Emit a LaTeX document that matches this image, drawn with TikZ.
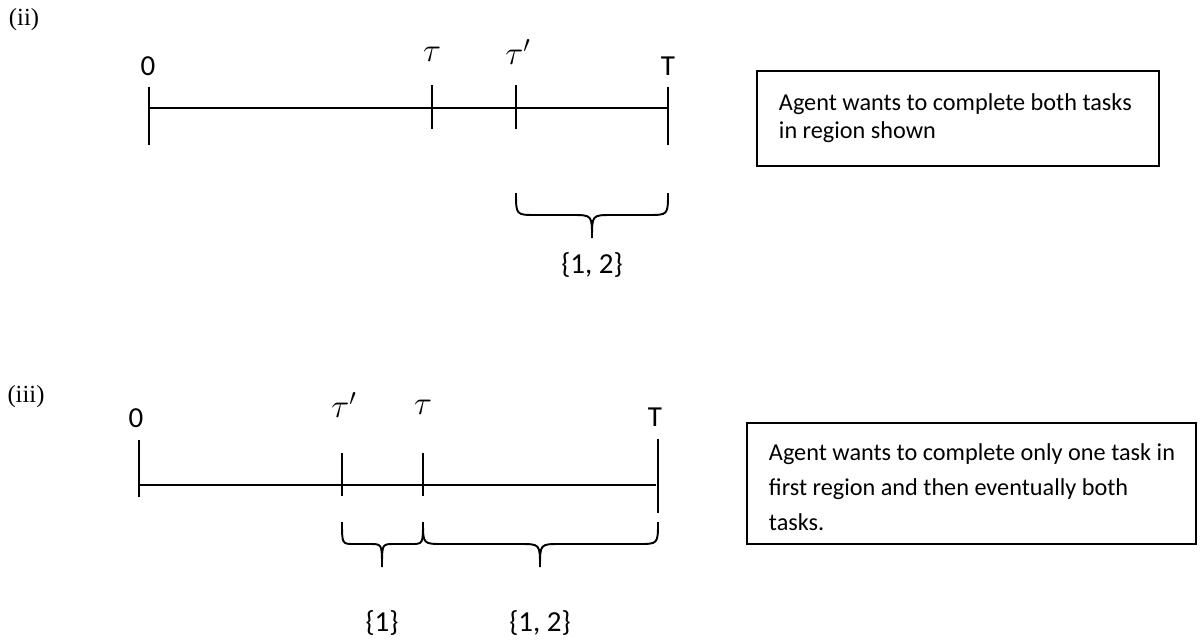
\RequirePackage{fix-cm}
\documentclass[tikz,border=0pt]{standalone}
\usepackage{fontspec}
\setmainfont{Carlito}
\newfontfamily\numfont{Liberation Serif}
\usepackage{amsmath}
\usepackage{tikz}
\usetikzlibrary{calc}

\begin{document}
\begin{tikzpicture}[x=0.02cm, y=-0.02cm, line width=1.1pt,
    lab/.style={font=\fontsize{16.5}{19}\selectfont, inner sep=0pt},
    mlab/.style={font=\fontsize{19}{22}\selectfont, inner sep=0pt},
    part/.style={font=\numfont\fontsize{14}{16}\selectfont, inner sep=0pt},
    desc/.style={font=\fontsize{13.8}{16}\selectfont, align=left, anchor=north west, inner sep=0pt}]
    \useasboundingbox (0,0) rectangle (1202,639);
    % (ii)
    \node[part] (partii) at (24,20) {(ii)};
    \coordinate (A0) at (149,108);
    \coordinate (AT) at (668,108);
    \draw (A0) -- (AT);
    \foreach \x/\t/\b in {149/87/145, 432/85/129, 516/85/129, 668/87/145} {\draw (\x,\t) -- (\x,\b);}
    \node[lab] (a0) at (148,66) {0};
    \node[mlab] (atau) at (432,54) {$\tau$};
    \node[mlab] (ataup) at (518,52) {$\tau'$};
    \node[lab] (aT) at (668,66) {T};
    \node[lab] (aset) at (592,265) {\{1, 2\}};
    \draw (757,71) rectangle (1159,166);
    \node[desc] (adesc) at (778,93) {Agent wants to complete both tasks\\in region shown};
    % (iii)
    \node[part] (partiii) at (26,397) {(iii)};
    \coordinate (B0) at (139,485);
    \coordinate (BT) at (656,485);
    \draw (B0) -- (BT);
    \foreach \x/\t/\b in {139/440/497, 342/453/496, 423/453/496, 658/439/513} {\draw (\x,\t) -- (\x,\b);}
    \node[lab] (b0) at (136,418) {0};
    \node[mlab] (btaup) at (344,405) {$\tau'$};
    \node[mlab] (btau) at (423,407) {$\tau$};
    \node[lab] (bT) at (655,417) {T};
    \node[lab] (bone) at (382,623) {\{1\}};
    \node[lab] (bset) at (540,623) {\{1, 2\}};
    \draw (747,423) rectangle (1196,544);
    \node[desc, font=\fontsize{13.8}{19.8}\selectfont] (bdesc) at (768,443) {Agent wants to complete only one task in\\first region and then eventually both\\tasks.};
    % braces
    \foreach \l/\m/\r/\y/\c in {516/592/668/193/20, 342/382/423/522/12, 423/540/658/522/20}
        {\draw (\l,\y) .. controls (\l,\y+22) .. (\l+\c,\y+22) -- (\m-\c,\y+22)
            .. controls (\m,\y+22) .. (\m,\y+45) .. controls (\m,\y+22) .. (\m+\c,\y+22)
            -- (\r-\c,\y+22) .. controls (\r,\y+22) .. (\r,\y);}
\end{tikzpicture}
\end{document}
